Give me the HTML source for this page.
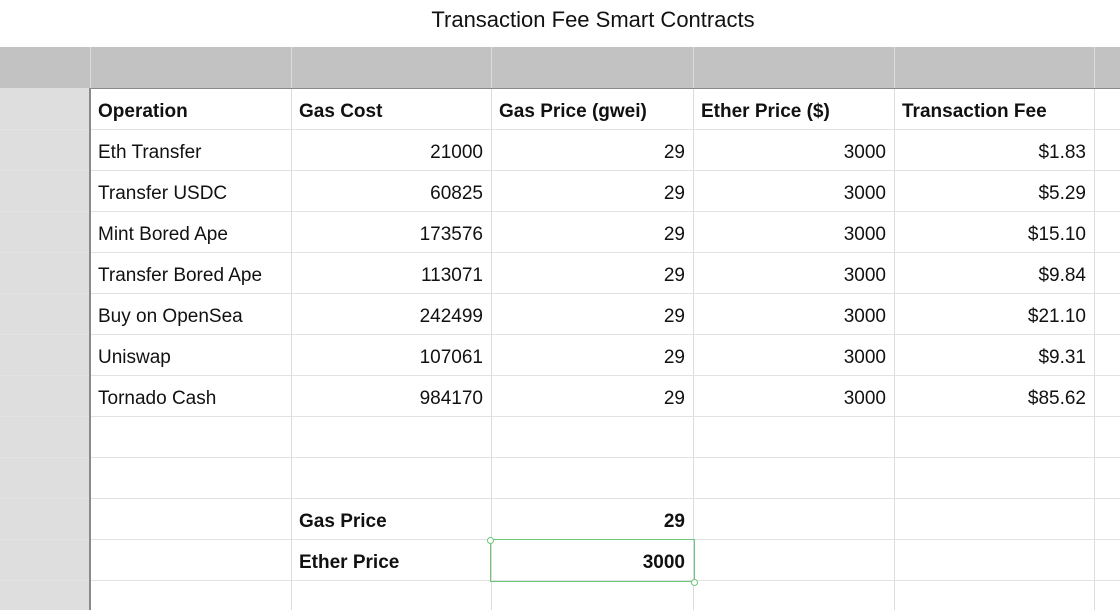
<!DOCTYPE html>
<html><head><meta charset="utf-8"><style>
body{margin:0;width:1120px;height:610px;overflow:hidden;background:#fff;font-family:"Liberation Sans",Arial,sans-serif;position:relative}
.t{position:absolute;left:0;width:1186px;top:7px;text-align:center;font-size:22px;color:#111}
.hb{position:absolute;left:0;top:47px;width:1120px;height:41px;background:#c1c2c1}
.lc{position:absolute;left:0;top:88px;width:90px;height:522px;background:#dedede}
.vl{position:absolute;top:47px;width:1px;height:563px;background:#dcdcdc}
.hl{position:absolute;left:0;width:1120px;height:1px;background:#e2e2e2}
.c{position:absolute;height:41px;line-height:48px;font-size:19px;color:#111;box-sizing:border-box;padding:0 8px;white-space:nowrap}
.r{text-align:right}.b{font-weight:bold}
.sel{z-index:5}
</style></head><body>
<div class="t">Transaction Fee Smart Contracts</div>
<div class="hb"></div>
<div class="lc"></div>
<div id="grid"></div>
<div style="position:absolute;left:90px;top:88px;width:1030px;height:1px;background:#8a8a8a;z-index:4"></div>
<div style="position:absolute;left:89px;top:88px;width:2px;height:522px;background:#8a8a8a;z-index:4"></div>
<div class="sel" style="position:absolute;left:490px;top:539px;width:205px;height:43px;border:1px solid #6cc67a;box-sizing:border-box"></div>
<div class="sel" style="position:absolute;left:487px;top:537px;width:5px;height:5px;border:1px solid #6cc67a;border-radius:50%;background:#fff"></div>
<div class="sel" style="position:absolute;left:691px;top:579px;width:5px;height:5px;border:1px solid #6cc67a;border-radius:50%;background:#fff"></div>
<script>
const cols=[90,291,491,693,894,1094];
const headers=["Operation","Gas Cost","Gas Price (gwei)","Ether Price ($)","Transaction Fee"];
const ops=["Eth Transfer","Transfer USDC","Mint Bored Ape","Transfer Bored Ape","Buy on OpenSea","Uniswap","Tornado Cash"];
const gas=["21000","60825","173576","113071","242499","107061","984170"];
const fees=["$1.83","$5.29","$15.10","$9.84","$21.10","$9.31","$85.62"];
const g=document.getElementById('grid');
const top0=88,rh=41;
for(const x of [90,291,491,693,894,1094]){const v=document.createElement('div');v.className='vl';v.style.left=x+'px';

g.appendChild(v);}
for(let i=1;i<13;i++){const h=document.createElement('div');h.className='hl';h.style.top=(top0+i*rh)+'px';

g.appendChild(h);}
function cell(ci,ri,txt,cls,name){const d=document.createElement('div');d.className='c '+cls;d.style.left=cols[ci]+'px';d.style.width=(cols[ci+1]-cols[ci])+'px';d.style.top=(top0+ri*rh)+'px';d.textContent=txt;

g.appendChild(d);}
headers.forEach((h,i)=>cell(i,0,h,'b','header-cell'));
ops.forEach((o,i)=>{cell(0,i+1,o,'','operation-cell');cell(1,i+1,gas[i],'r','gas-cost-cell');cell(2,i+1,'29','r','gas-price-cell');cell(3,i+1,'3000','r','ether-price-cell');cell(4,i+1,fees[i],'r','fee-cell');});
cell(1,10,'Gas Price','b','gas-price-label');cell(2,10,'29','r b','gas-price-input');
cell(1,11,'Ether Price','b','ether-price-label');cell(2,11,'3000','r b','ether-price-input');
</script>
</body></html>
